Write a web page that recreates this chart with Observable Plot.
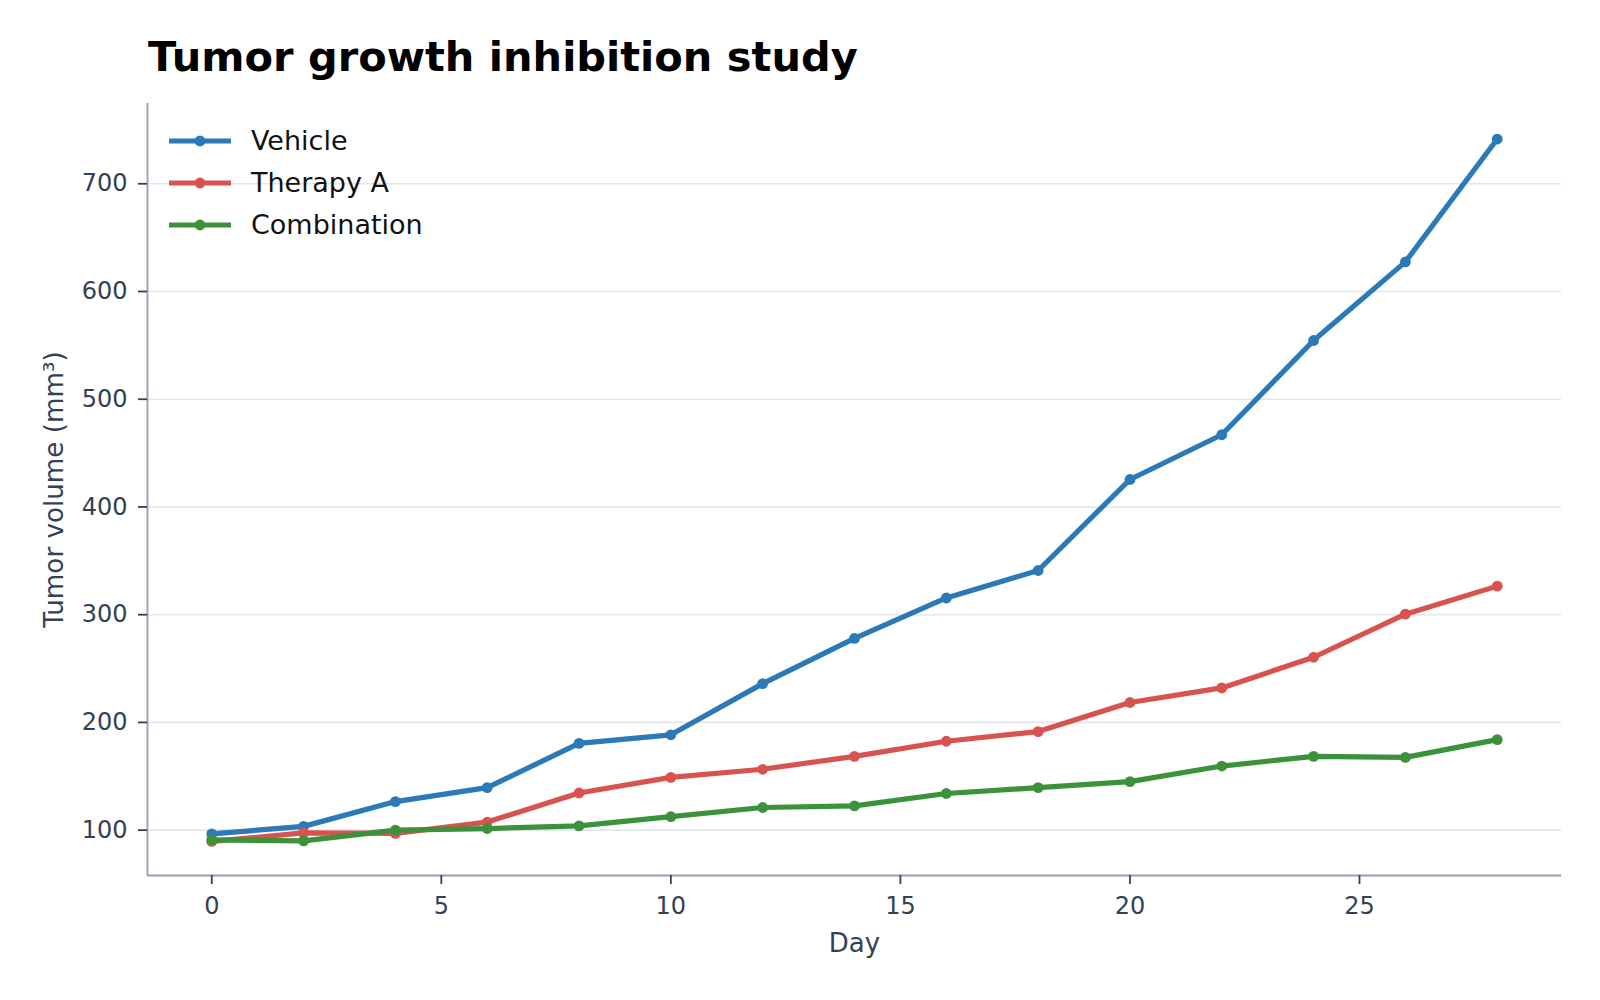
<!DOCTYPE html>
<html>
<head>
<meta charset="utf-8">
<script src="https://cdn.jsdelivr.net/npm/d3@7"></script>
<script src="https://cdn.jsdelivr.net/npm/@observablehq/plot@0.6"></script>
<style>
  html, body { margin: 0; padding: 0; background: #fff; }
  #wrap { position: relative; width: 1600px; height: 1000px; font-family: "DejaVu Sans", sans-serif; }
  #title { position: relative; height: 90px; }
  #title span { position: absolute; left: 148px; top: 35.9px; font-size: 41.5px; line-height: 41.5px; font-weight: bold; color: #000; white-space: nowrap; }
  #legend { position: absolute; left: 169px; top: 119.7px; }
  .row { display: flex; align-items: center; height: 42px; }
  .row span { margin-left: 20px; font-size: 27px; line-height: 27px; color: #111; white-space: nowrap; }
</style>
</head>
<body>
<div id="wrap">
  <div id="title"><span>Tumor growth inhibition study</span></div>
  <div id="chart"></div>
  <div id="legend"></div>
</div>
<script>
const days = [0, 2, 4, 6, 8, 10, 12, 14, 16, 18, 20, 22, 24, 26, 28];
const vehicle = [96.5, 103.5, 126.5, 139.5, 180.5, 188.5, 236, 278, 315.5, 341, 425.5, 467, 554.5, 627.5, 741.5];
const therapyA = [89.5, 97.5, 97, 107.5, 134.5, 149, 156.5, 168.5, 182.5, 191.5, 218.5, 232, 260.5, 300.5, 326.5];
const combination = [91, 90, 100, 101.5, 104, 112.5, 121, 122.5, 134, 139.5, 145, 159.5, 168.5, 167.5, 184];
const seriesNames = ["Vehicle", "Therapy A", "Combination"];
const seriesColors = ["#2b79b6", "#d9534e", "#3b923b"];
const xTicks = [0, 5, 10, 15, 20, 25];
const yTicks = [100, 200, 300, 400, 500, 600, 700];
const xDomain = [-1.4, 29.4];
const yDomain = [57.9, 774.5];

const seriesValues = [vehicle, therapyA, combination];
const rows = [];
seriesNames.forEach((name, i) => {
  days.forEach((d, j) => rows.push({series: name, day: d, value: seriesValues[i][j]}));
});

const ink = "#334155";
const spine = "#959db0";

const marks = [
  Plot.gridY(yTicks, {stroke: "#e2e5eb", strokeOpacity: 1, strokeWidth: 1.6}),
  Plot.ruleX([xDomain[0]], {stroke: spine, strokeWidth: 1.8}),
  Plot.ruleY([yDomain[0]], {stroke: spine, strokeWidth: 1.8}),
  Plot.axisX({ticks: xTicks, tickSize: 9, tickPadding: 12, fontSize: 24, stroke: ink, fill: ink, strokeWidth: 1.8, label: null}),
  Plot.axisY({ticks: yTicks, tickSize: 9, tickPadding: 11, fontSize: 24, stroke: ink, fill: ink, strokeWidth: 1.8, label: null}),
  Plot.text(["Day"], {frameAnchor: "bottom", textAnchor: "middle", lineAnchor: "bottom", dy: 76.7, fontSize: 26, fill: ink}),
  Plot.text(["Tumor volume (mm³)"], {frameAnchor: "left", textAnchor: "middle", lineAnchor: "bottom", rotate: -90, dx: -84.3, fontSize: 26.2, fill: ink})
];
seriesNames.forEach((name, i) => {
  const data = rows.filter(r => r.series === name);
  marks.push(Plot.line(data, {x: "day", y: "value", stroke: seriesColors[i], strokeWidth: 5.2, strokeLinejoin: "round", strokeLinecap: "round"}));
  marks.push(Plot.dot(data, {x: "day", y: "value", fill: seriesColors[i], r: 5.4, stroke: "none"}));
});

const chart = Plot.plot({
  width: 1600,
  height: 910,
  marginTop: 13,
  marginBottom: 125,
  marginLeft: 147,
  marginRight: 39,
  style: {fontFamily: "DejaVu Sans, sans-serif", background: "#fff", overflow: "visible"},
  x: {domain: xDomain},
  y: {domain: yDomain},
  marks
});
document.getElementById("chart").appendChild(chart);

const legend = document.getElementById("legend");
seriesNames.forEach((name, i) => {
  const row = document.createElement("div");
  row.className = "row";
  row.innerHTML = `<svg width="62" height="14"><line x1="0" x2="62" y1="7" y2="7" stroke="${seriesColors[i]}" stroke-width="5"/><circle cx="31" cy="7" r="5.4" fill="${seriesColors[i]}"/></svg><span>${name}</span>`;
  legend.appendChild(row);
});
</script>
</body>
</html>
